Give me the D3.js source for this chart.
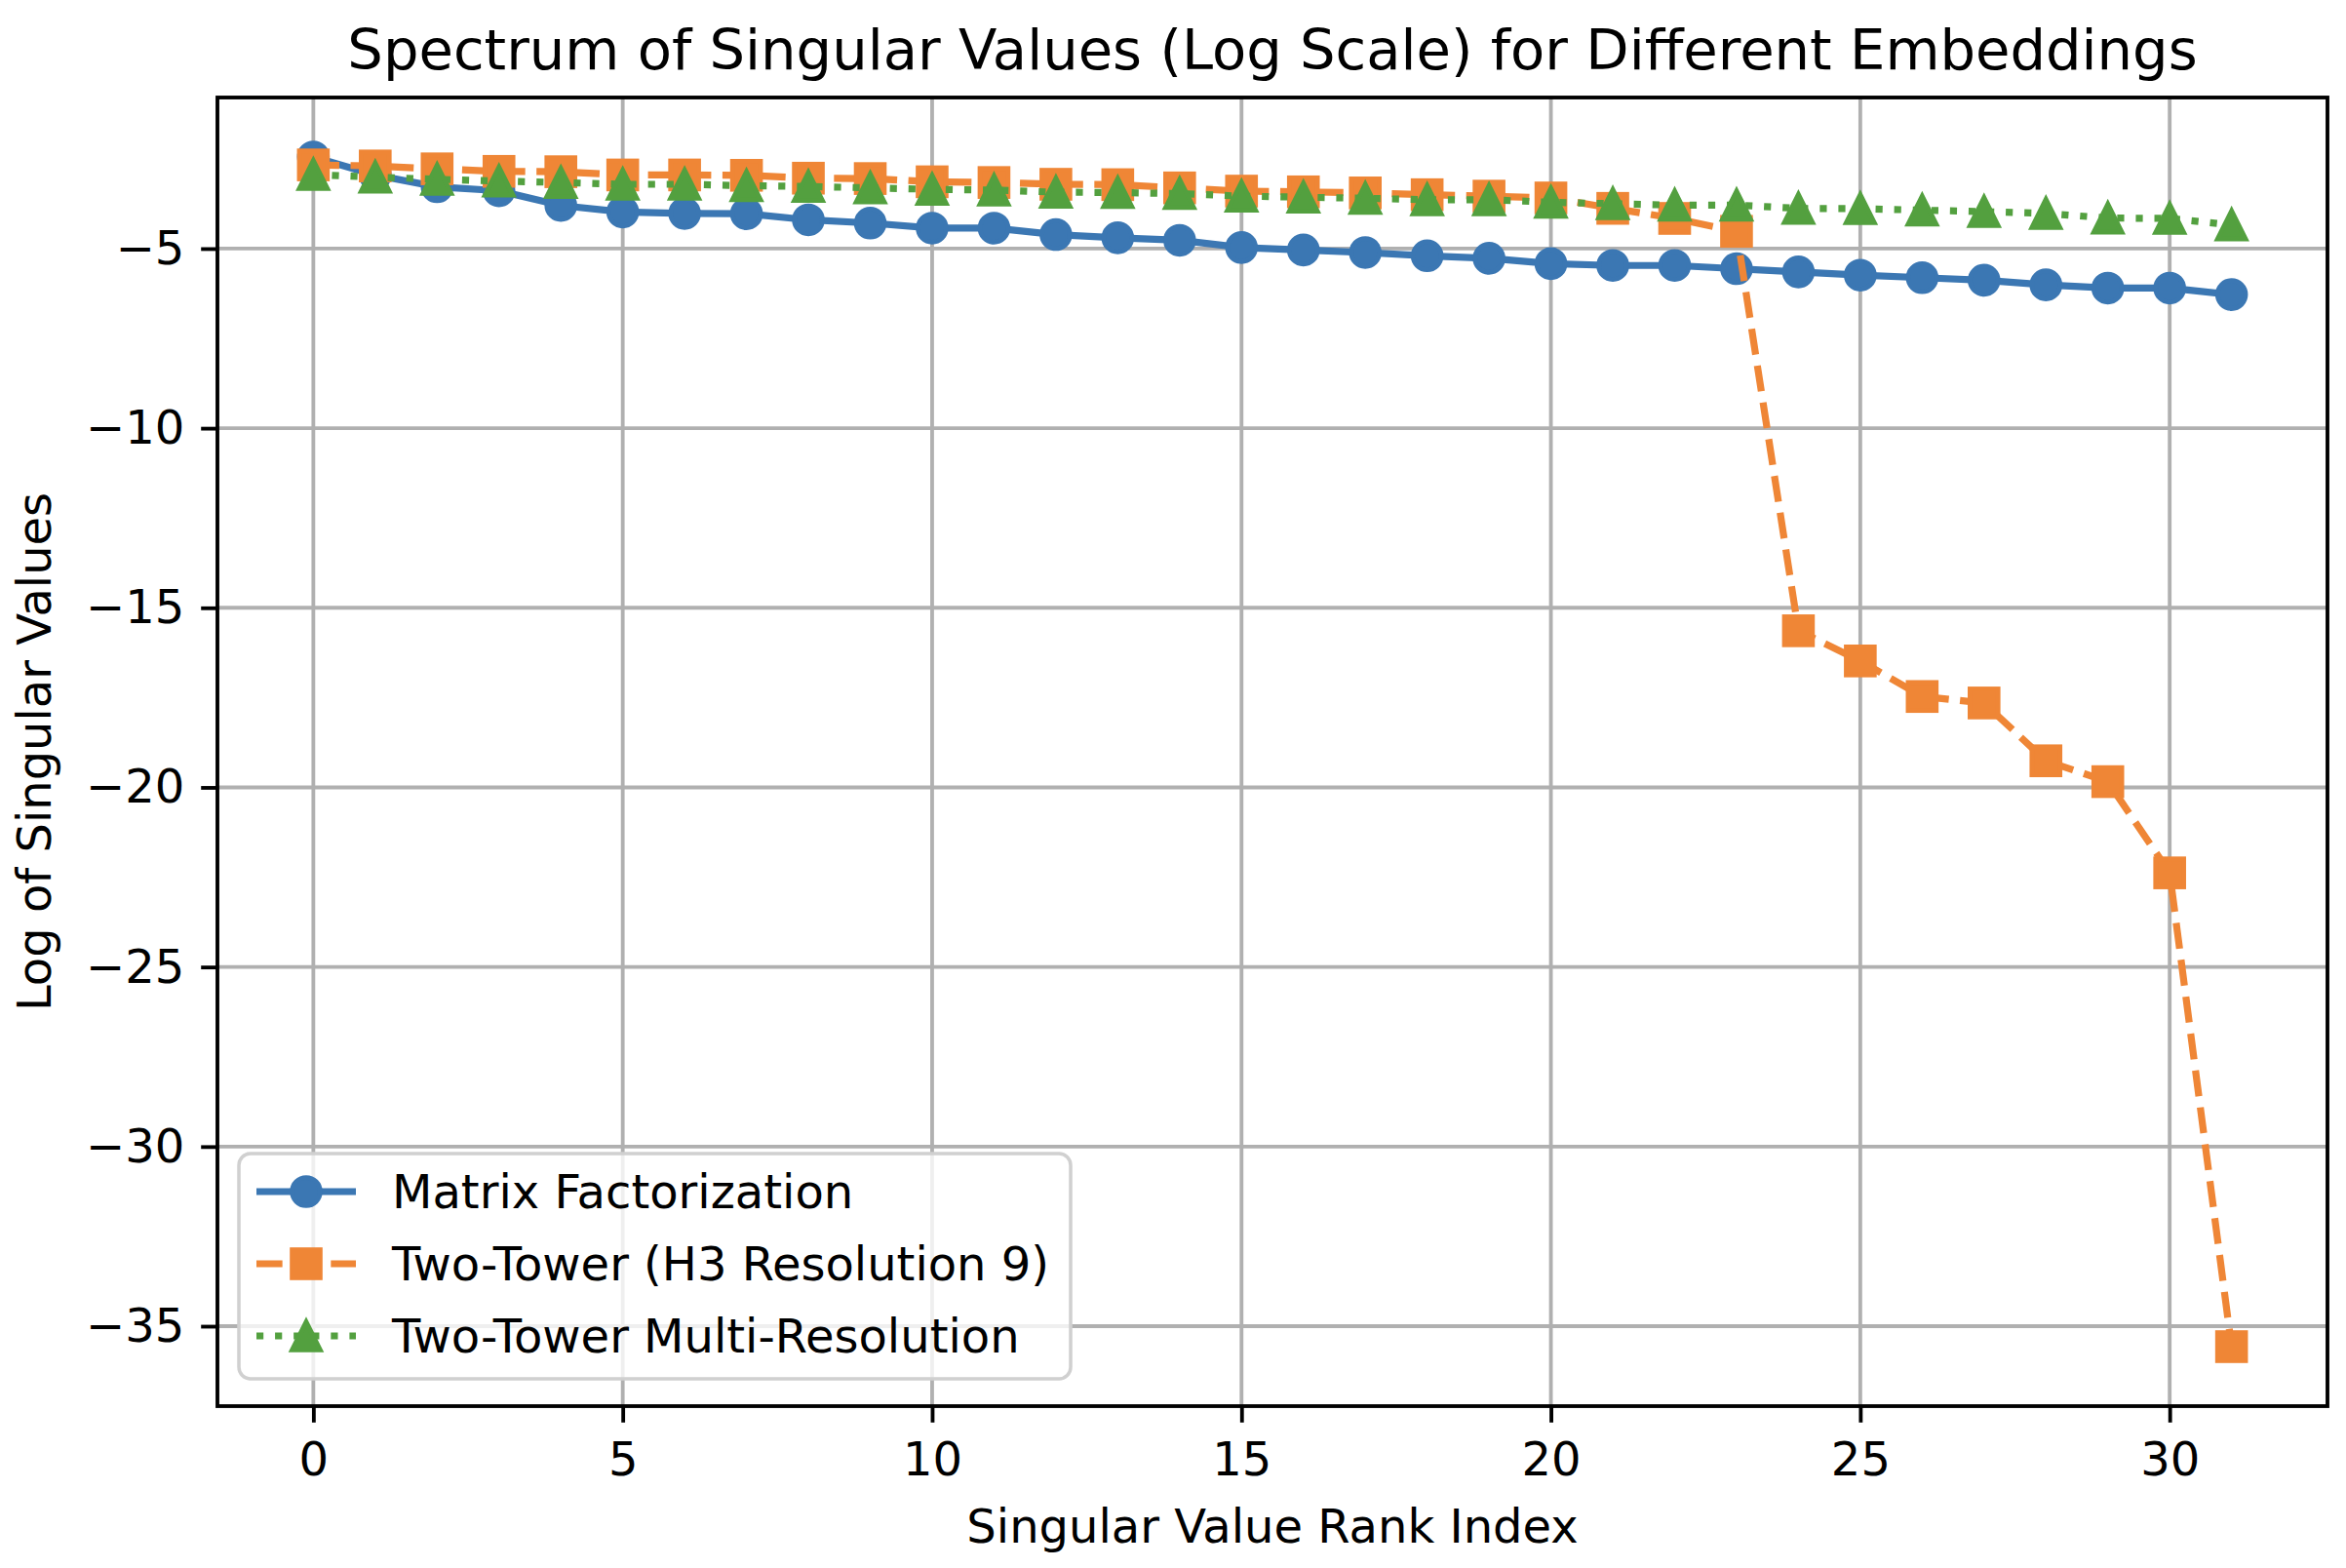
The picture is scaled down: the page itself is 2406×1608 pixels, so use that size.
<!DOCTYPE html>
<html>
<head>
<meta charset="utf-8">
<script src="https://cdn.jsdelivr.net/npm/d3@7"></script>
<style>
  body { margin: 0; background: #fff; }
  text { font-family: "DejaVu Sans", sans-serif; fill: #000; }
</style>
</head>
<body>
<div id="chart-container"></div>
<script>
// ----- data -----
const rankIndex = d3.range(32);
const mfValues = [-2.45, -2.95, -3.28, -3.39, -3.80, -3.98, -4.02, -4.03, -4.20, -4.29, -4.43, -4.43, -4.61, -4.70, -4.77, -4.97,
  -5.04, -5.11, -5.20, -5.27, -5.42, -5.47, -5.47, -5.56, -5.65, -5.74, -5.81, -5.88, -6.01, -6.10, -6.10, -6.28];
const h3Values = [-2.67, -2.70, -2.78, -2.85, -2.86, -2.95, -2.95, -2.96, -3.04, -3.05, -3.14, -3.16, -3.21, -3.22, -3.31, -3.40,
  -3.42, -3.45, -3.50, -3.54, -3.59, -3.88, -4.16, -4.52, -15.64, -16.48, -17.47, -17.65, -19.26, -19.84, -22.38, -35.57];
const multiValues = [-2.94, -3.01, -3.07, -3.12, -3.16, -3.21, -3.21, -3.25, -3.27, -3.31, -3.35, -3.37, -3.43, -3.44, -3.47, -3.54,
  -3.57, -3.60, -3.64, -3.64, -3.71, -3.75, -3.79, -3.79, -3.88, -3.89, -3.93, -3.97, -4.02, -4.15, -4.16, -4.34];
const seriesNames = ["Matrix Factorization", "Two-Tower (H3 Resolution 9)", "Two-Tower Multi-Resolution"];
const xTicks = [0, 5, 10, 15, 20, 25, 30];
const yTicks = [-5, -10, -15, -20, -25, -30, -35];

const width = 2406;
const height = 1608;
const pt = 4.8; // px per point
const margin = {top: 100, right: 19, bottom: 166, left: 223};
const innerW = width - margin.left - margin.right;
const innerH = height - margin.top - margin.bottom;

const series = [
  {name: seriesNames[0], values: mfValues, color: "#3b77b3", dash: null, marker: "circle"},
  {name: seriesNames[1], values: h3Values, color: "#ef8636", dash: [5.55 * pt, 2.4 * pt], marker: "square"},
  {name: seriesNames[2], values: multiValues, color: "#53a03f", dash: [1.5 * pt, 2.475 * pt], marker: "triangle"}
];

const svg = d3.select("#chart-container")
  .append("svg")
    .attr("width", width)
    .attr("height", height);

const g = svg.append("g")
  .attr("transform", `translate(${margin.left},${margin.top})`);

// scales with matplotlib-like 5% padding
const allY = mfValues.concat(h3Values, multiValues);
const yMin = d3.min(allY), yMax = d3.max(allY);
const yPad = (yMax - yMin) * 0.05;
const xScale = d3.scaleLinear().domain([-1.55, 32.55]).range([0, innerW]);
const yScale = d3.scaleLinear().domain([yMin - yPad, yMax + yPad]).range([innerH, 0]);

const fmt = d => (d < 0 ? "\u2212" + Math.abs(d) : "" + d);

// grid
g.append("g").selectAll("line")
  .data(xTicks)
  .join("line")
    .attr("x1", d => xScale(d)).attr("x2", d => xScale(d))
    .attr("y1", 0).attr("y2", innerH)
    .attr("stroke", "#b0b0b0")
    .attr("stroke-width", 0.8 * pt);
g.append("g").selectAll("line")
  .data(yTicks)
  .join("line")
    .attr("x1", 0).attr("x2", innerW)
    .attr("y1", d => yScale(d)).attr("y2", d => yScale(d))
    .attr("stroke", "#b0b0b0")
    .attr("stroke-width", 0.8 * pt);

// axes
const xAxis = g.append("g")
  .attr("transform", `translate(0,${innerH})`)
  .call(d3.axisBottom(xScale).tickValues(xTicks).tickFormat(fmt).tickSize(3.5 * pt).tickPadding(3.5 * pt));
const yAxis = g.append("g")
  .call(d3.axisLeft(yScale).tickValues(yTicks).tickFormat(fmt).tickSize(3.5 * pt).tickPadding(3.5 * pt));

[xAxis, yAxis].forEach(a => {
  a.select(".domain").remove();
  a.selectAll(".tick line").attr("stroke", "#000").attr("stroke-width", 0.8 * pt);
  a.selectAll(".tick text")
    .attr("font-size", 48)
    .attr("font-family", "DejaVu Sans")
    .attr("fill", "#000");
});
xAxis.selectAll(".tick text").attr("dy", "0.78em");

// lines + markers
const line = d3.line()
  .x((d, i) => xScale(rankIndex[i]))
  .y(d => yScale(d));

const ms = 6 * pt; // marker size
function drawMarker(sel, type, color) {
  if (type === "circle") {
    sel.append("circle").attr("r", ms / 2);
  } else if (type === "square") {
    sel.append("rect").attr("x", -ms / 2).attr("y", -ms / 2).attr("width", ms).attr("height", ms);
  } else {
    sel.append("path").attr("d", `M0,${-ms / 2}L${-ms / 2},${ms / 2}L${ms / 2},${ms / 2}Z`);
  }
  sel.selectAll("*")
    .attr("fill", color)
    .attr("stroke", color)
    .attr("stroke-width", 1 * pt)
    .attr("stroke-linejoin", "miter");
}

series.forEach(s => {
  const sg = g.append("g");
  sg.append("path")
    .attr("d", line(s.values))
    .attr("fill", "none")
    .attr("stroke", s.color)
    .attr("stroke-width", 1.5 * pt)
    .attr("stroke-dasharray", s.dash ? s.dash.join(",") : null);
  s.values.forEach((v, i) => {
    const m = sg.append("g").attr("transform", `translate(${xScale(rankIndex[i])},${yScale(v)})`);
    drawMarker(m, s.marker, s.color);
  });
});

// frame
g.append("rect")
  .attr("width", innerW).attr("height", innerH)
  .attr("fill", "none")
  .attr("stroke", "#000")
  .attr("stroke-width", 0.8 * pt);

// title and axis labels
svg.append("text")
  .attr("x", margin.left + innerW / 2)
  .attr("y", 71)
  .attr("text-anchor", "middle")
  .attr("font-size", 57.6)
  .text("Spectrum of Singular Values (Log Scale) for Different Embeddings");

svg.append("text")
  .attr("x", margin.left + innerW / 2)
  .attr("y", 1582)
  .attr("text-anchor", "middle")
  .attr("font-size", 48)
  .text("Singular Value Rank Index");

svg.append("text")
  .attr("transform", `translate(52,${margin.top + innerH / 2}) rotate(-90)`)
  .attr("text-anchor", "middle")
  .attr("font-size", 48)
  .text("Log of Singular Values");

// legend
const legend = svg.append("g").attr("class", "legend");
legend.append("rect")
  .attr("x", 245).attr("y", 1183)
  .attr("width", 853).attr("height", 231)
  .attr("rx", 12).attr("ry", 12)
  .attr("fill", "#fff").attr("fill-opacity", 0.8)
  .attr("stroke", "#d0d0d0")
  .attr("stroke-width", 3.5);

const rowY = [1222, 1296, 1370];
series.forEach((s, i) => {
  const row = legend.append("g").attr("transform", `translate(0,${rowY[i]})`);
  row.append("line")
    .attr("x1", 263).attr("x2", 365)
    .attr("y1", 0).attr("y2", 0)
    .attr("stroke", s.color)
    .attr("stroke-width", 1.5 * pt)
    .attr("stroke-dasharray", s.dash ? s.dash.join(",") : null);
  const m = row.append("g").attr("transform", "translate(314,0)");
  drawMarker(m, s.marker, s.color);
  row.append("text")
    .attr("x", 402)
    .attr("y", 17)
    .attr("font-size", 48)
    .text(s.name);
});
</script>
</body>
</html>
